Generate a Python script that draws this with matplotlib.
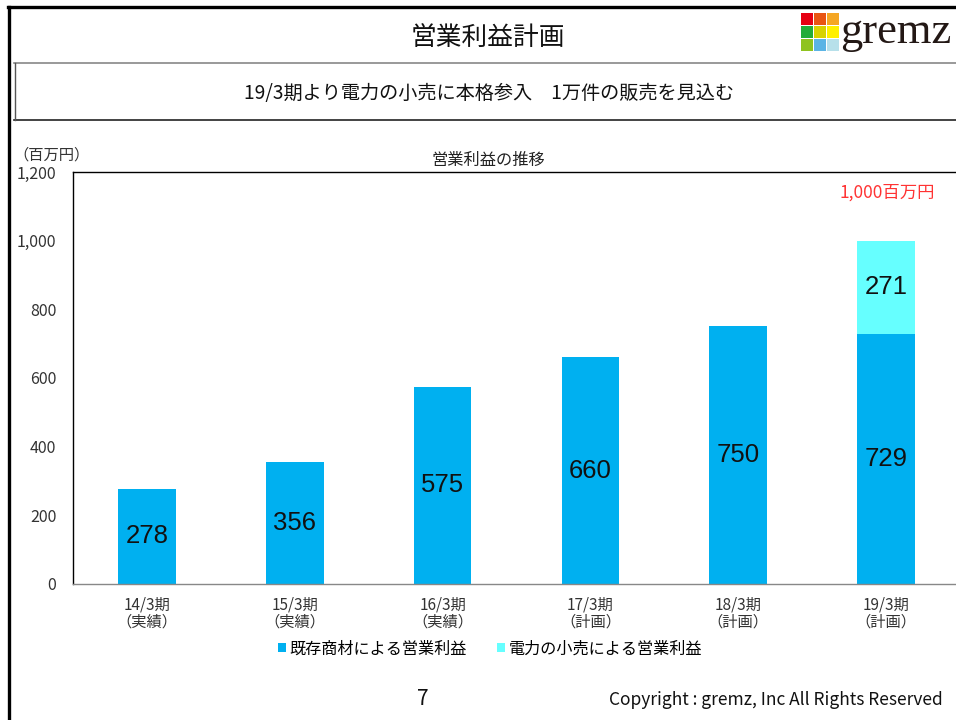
import matplotlib
matplotlib.use("Agg")
import matplotlib.pyplot as plt
from matplotlib.patches import Rectangle
from matplotlib.lines import Line2D

plt.rcParams['font.family'] = ['Noto Sans CJK JP', 'DejaVu Sans']

categories = ["14/3期\n（実績）", "15/3期\n（実績）", "16/3期\n（実績）",
              "17/3期\n（計画）", "18/3期\n（計画）", "19/3期\n（計画）"]
existing = [278, 356, 575, 660, 750, 729]
power = [0, 0, 0, 0, 0, 271]
series_names = ["既存商材による営業利益", "電力の小売による営業利益"]
yticks = [0, 200, 400, 600, 800, 1000, 1200]
ytick_labels = ["0", "200", "400", "600", "800", "1,000", "1,200"]

W, H = 956, 720
fig = plt.figure(figsize=(9.56, 7.2), dpi=100)

def fx(x):
    return x / W

def fy(y):
    return 1 - y / H

# slide border
fig.add_artist(Line2D([fx(9), fx(9)], [fy(7), fy(720)], color='black', lw=2.4))
fig.add_artist(Line2D([fx(8), fx(956)], [fy(7), fy(7)], color='black', lw=2.4))

# title
fig.text(fx(488), fy(38), "営業利益計画", ha='center', va='center', fontsize=18.5, color='#111111')

# logo
logo_colors = [["#E60012", "#E95513", "#F5A623"],
               ["#22AC38", "#D7D200", "#FFF000"],
               ["#8FC31F", "#5BB4E5", "#B7E0EA"]]
for r in range(3):
    for c in range(3):
        x0 = 801 + c * 13
        y0 = 13 + r * 13
        fig.add_artist(Rectangle((fx(x0), fy(y0 + 12)), fx(12), 12 / H,
                                 color=logo_colors[r][c], lw=0))
fig.text(fx(840), fy(32), "gremz", ha='left', va='center', fontsize=32,
         family='Liberation Serif', color='#231815')

# subtitle box
fig.add_artist(Line2D([fx(14), fx(956)], [fy(63), fy(63)], color='#888888', lw=1.2))
fig.add_artist(Line2D([fx(14), fx(956)], [fy(120), fy(120)], color='#222222', lw=1.2))
fig.add_artist(Line2D([fx(14.5), fx(14.5)], [fy(63), fy(120)], color='#555555', lw=1.0))
fig.text(fx(489), fy(93), "19/3期より電力の小売に本格参入　1万件の販売を見込む",
         ha='center', va='center', fontsize=13.8, color='#111111')

# chart axes
left, right, top, bottom = 73, 960, 172, 584
ax = fig.add_axes([fx(left), fy(bottom), (right - left) / W, (bottom - top) / H])
x = list(range(len(categories)))
bw = 0.39
c1, c2 = "#00B0F0", "#66FFFF"
b1 = ax.bar(x, existing, width=bw, color=c1, label=series_names[0], zorder=2)
b2 = ax.bar(x, power, width=bw, bottom=existing, color=c2, label=series_names[1], zorder=2)
for i in x:
    ax.text(i, existing[i] / 2, str(existing[i]), ha='center', va='center',
            fontsize=18.5, family=['Liberation Sans', 'DejaVu Sans'], color='#111111')
    if power[i] > 0:
        ax.text(i, existing[i] + power[i] / 2, str(power[i]), ha='center', va='center',
                fontsize=18.5, family=['Liberation Sans', 'DejaVu Sans'], color='#111111')
ax.set_xlim(-0.5, 5.5)
ax.set_ylim(0, 1200)
ax.set_yticks(yticks)
ax.set_yticklabels(ytick_labels, fontsize=11.5, color='#333333')
ax.set_xticks(x)
ax.set_xticklabels(categories, fontsize=11, color='#333333', linespacing=1.0)
ax.tick_params(axis='both', length=0)
ax.tick_params(axis='y', pad=12)
ax.tick_params(axis='x', pad=9)
ax.spines['top'].set_color('black')
ax.spines['left'].set_color('black')
ax.spines['bottom'].set_color('#888888')
ax.spines['right'].set_visible(False)
for s in ax.spines.values():
    s.set_linewidth(1.0)

fig.text(fx(51), fy(155), "（百万円）", ha='center', va='center', fontsize=11, color='#333333')
fig.text(fx(488), fy(160), "営業利益の推移", ha='center', va='center', fontsize=11.7, color='#222222')
fig.text(fx(887), fy(193), "1,000百万円", ha='center', va='center', fontsize=12.5, color='#FF3333')

# legend
fig.legend(handles=[b1, b2], labels=series_names, loc='center', bbox_to_anchor=(fx(490), fy(649)),
           ncol=2, frameon=False, fontsize=11.6, handlelength=0.5, handleheight=0.5,
           handletextpad=0.2, columnspacing=1.9)

# footer
fig.text(fx(423), fy(699), "7", ha='center', va='center', fontsize=15, color='#111111')
fig.text(fx(943), fy(700), "Copyright : gremz, Inc All Rights Reserved", ha='right', va='center',
         fontsize=12.5, color='#111111')

fig.savefig("out.png", dpi=100)
